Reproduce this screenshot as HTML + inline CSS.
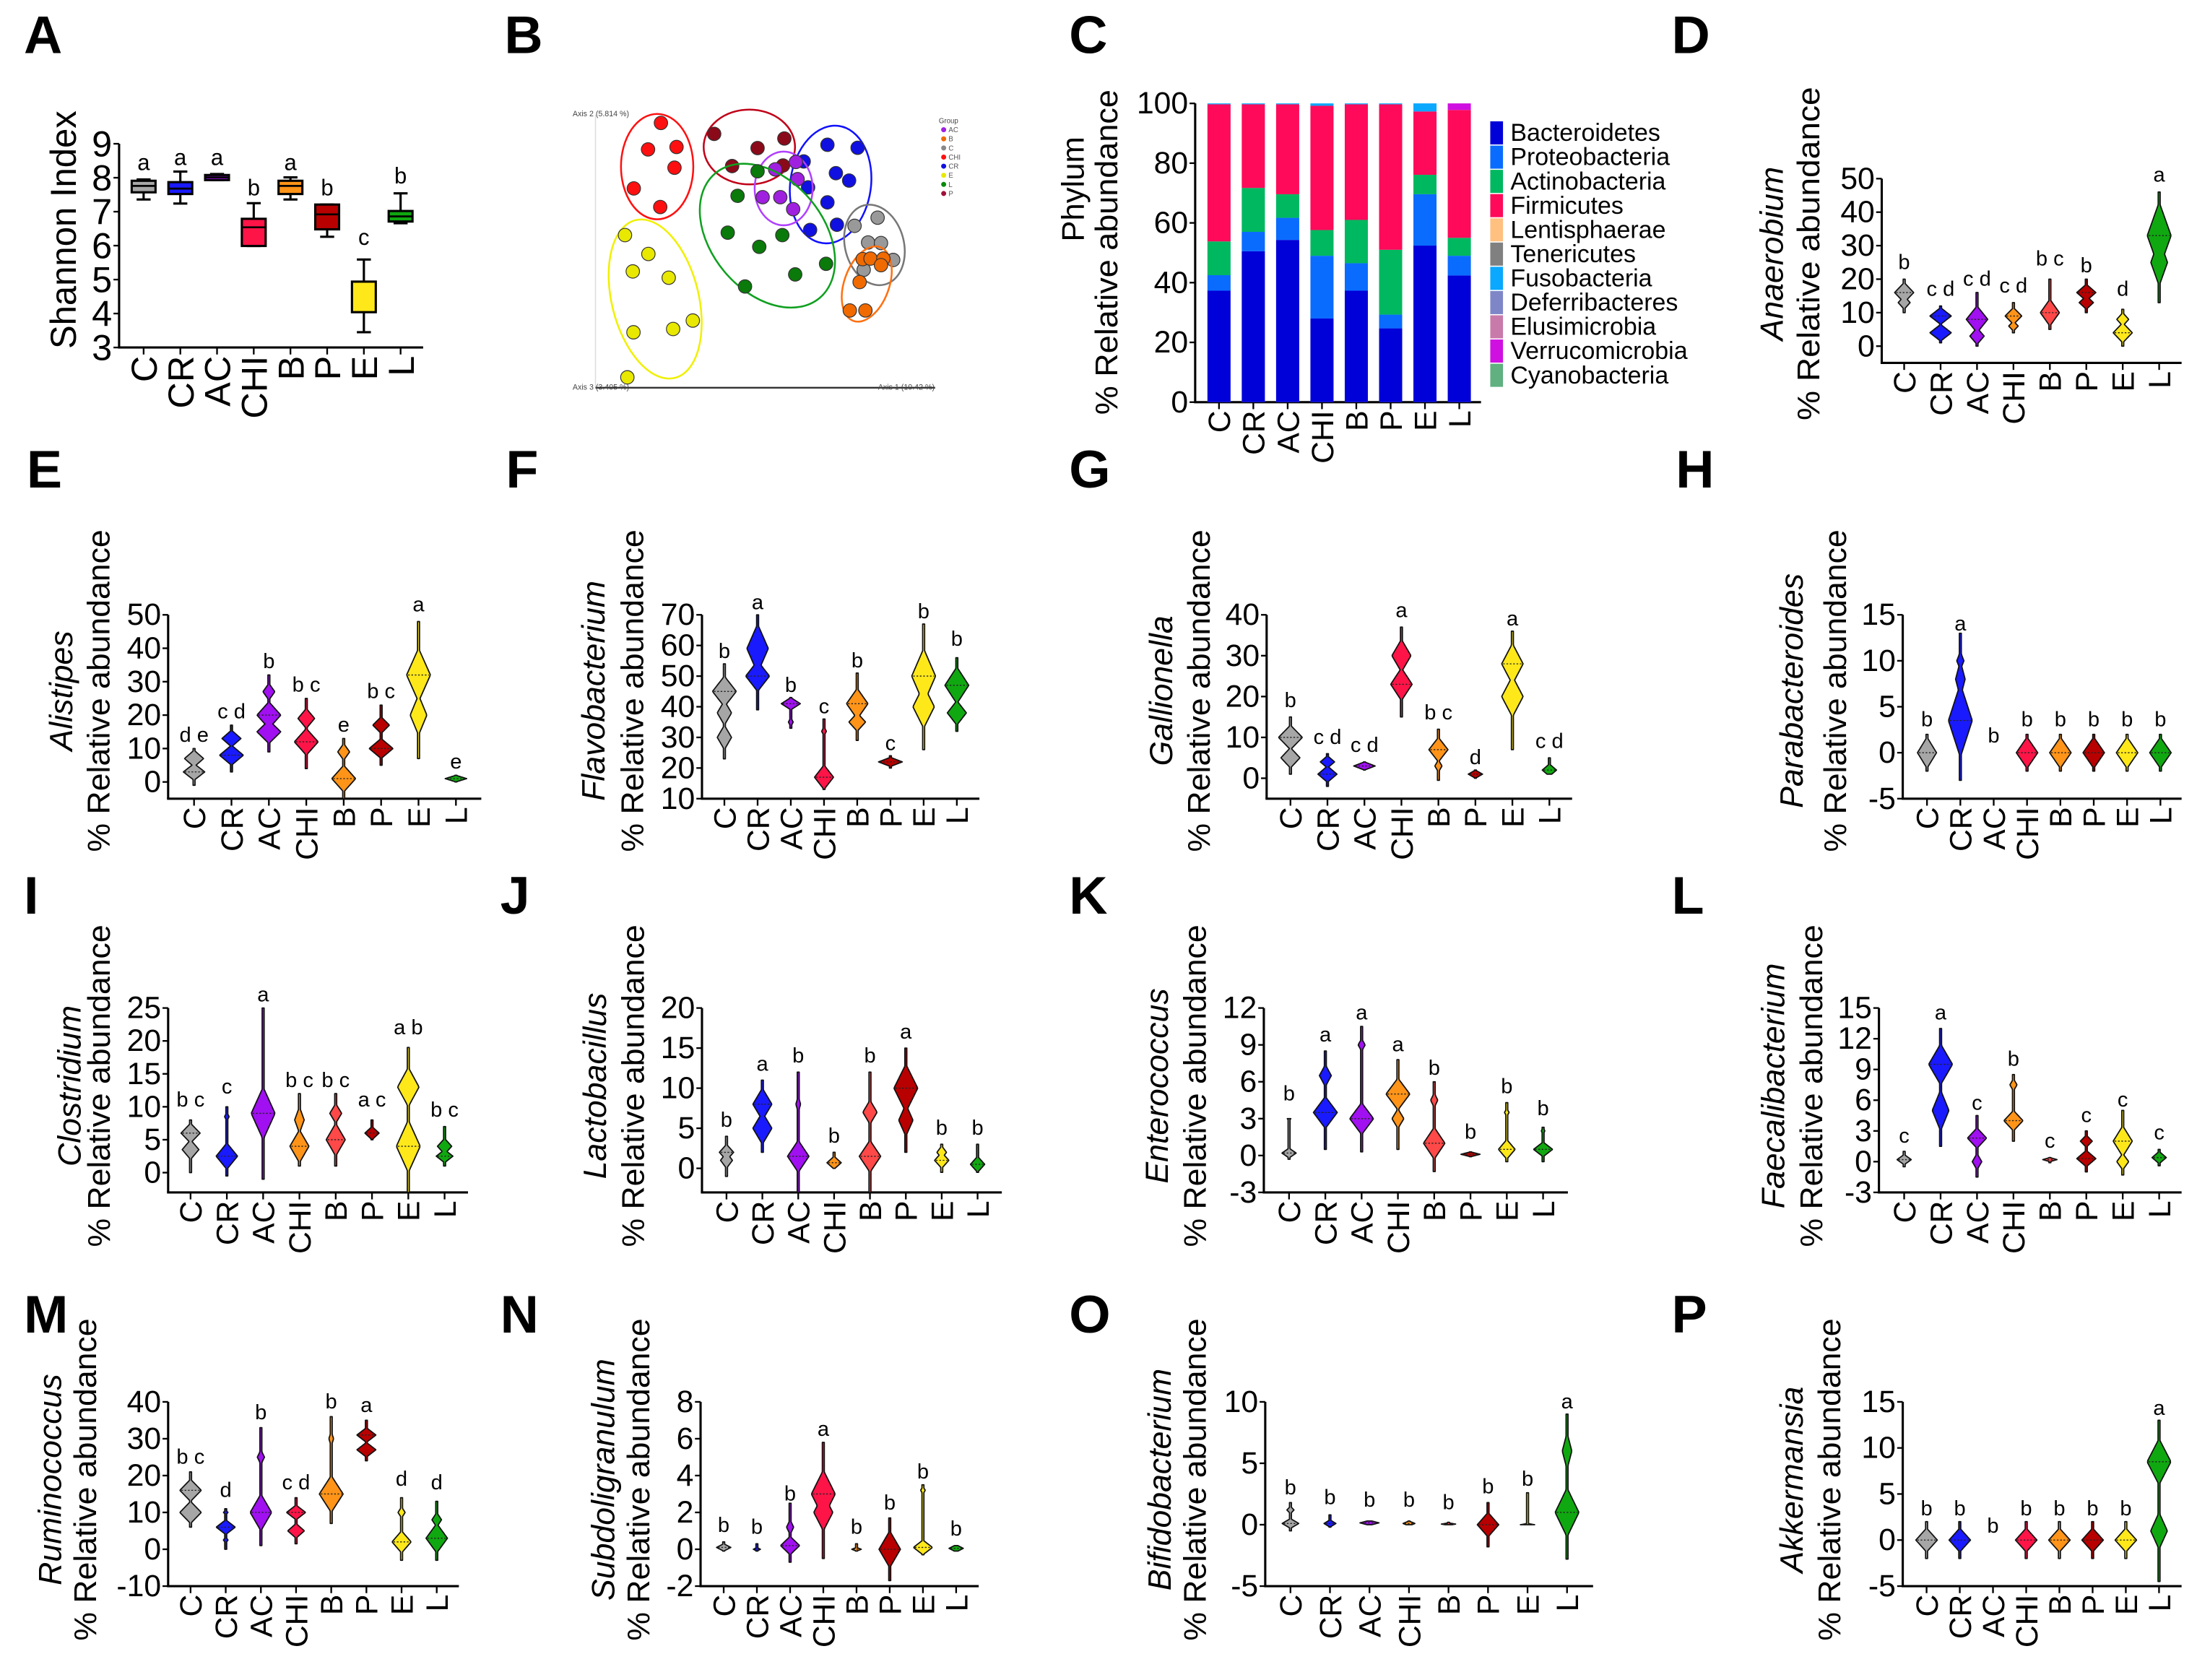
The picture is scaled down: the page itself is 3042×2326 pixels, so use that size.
<!DOCTYPE html>
<html><head><meta charset="utf-8"><title>Microbiota figure</title>
<style>
html,body{margin:0;padding:0;background:#fff;}
svg{display:block;font-family:"Liberation Sans",Arial,sans-serif;}
</style></head>
<body>
<svg id="fig" xmlns="http://www.w3.org/2000/svg" width="3042" height="2326" viewBox="0 0 1568 1199" preserveAspectRatio="none"></svg>
<script>
// ---------- shared categories ----------
const CATS = ["C","CR","AC","CHI","B","P","E","L"];

// ---------- Panel A (Shannon boxplots) ----------
const A_q1 = [7.57,7.52,7.93,5.99,7.52,6.48,4.04,6.71];
const A_med = [7.76,7.68,8.01,6.54,7.76,6.92,4.94,6.86];
const A_q3 = [7.91,7.87,8.08,6.79,7.91,7.21,4.94,7.02];
const A_min = [7.36,7.24,7.93,5.99,7.36,6.26,3.45,6.66];
const A_max = [7.95,8.18,8.11,7.25,8.01,7.21,5.59,7.54];
const A_sig = ["a","a","a","b","a","b","c","b"];
const A_sigY = [8.45,8.6,8.6,7.7,8.45,7.7,6.25,8.05];
const A_ticks = [3,4,5,6,7,8,9];

// ---------- Panel B (PCoA) ----------
const B_groups = ["AC","B","C","CHI","CR","E","L","P"];
const B_x_CHI = [19.3,15.5,23.9,23.3,11.3,19.1];
const B_y_CHI = [97,87.3,88.2,80.6,73,66.2];
const B_x_P = [35,55.7,47.8,40.3,55.3];
const B_y_P = [93,91.3,87.8,81.2,81.4];
const B_x_CR = [68.4,77.3,70.9,74.8,61.4,62.7,68.4,71.2,63.3];
const B_y_CR = [89,87.9,78.6,75.9,82.9,73.4,67.9,59.7,57.8];
const B_x_AC = [53,59.6,49.3,54.5,58.3,59.1];
const B_y_AC = [80,76.4,69.8,69.8,65.4,82.7];
const B_x_L = [47.8,41.9,39,48.3,55.1,68,58.9,44.1];
const B_y_L = [79.3,70.3,56.8,51.6,55.9,45.4,41.5,37.1];
const B_x_C = [83.2,76.4,80.4,84.2,87.8,79.1];
const B_y_C = [62.3,59.3,53.2,53,46.8,43.2];
const B_x_B = [78.8,81.1,84.9,84.2,77.9,75,79.6];
const B_y_B = [47.1,47.3,47.3,44.9,38.7,28.3,28.3];
const B_x_E = [8.7,15.6,11,21.6,11.2,22.9,28.7,9.4];
const B_y_E = [55.9,49,42.6,40.3,20.3,21.5,24.6,3.8];

// ---------- Panel C (phylum stacked bars) ----------
const C_phyla = ["Bacteroidetes","Proteobacteria","Actinobacteria","Firmicutes","Lentisphaerae","Tenericutes","Fusobacteria","Deferribacteres","Elusimicrobia","Verrucomicrobia","Cyanobacteria"];
const C_bacteroidetes = [37.3,50.5,54.3,28,37.3,24.7,52.4,42.4];
const C_proteobacteria = [5.2,6.5,7.4,21,9.2,4.6,17.2,6.6];
const C_actinobacteria = [11.3,14.7,7.9,8.6,14.5,21.7,6.5,6];
const C_firmicutes = [45.9,28,30.1,41.6,38.7,48.7,21.2,42.8];
const C_fusobacteria = [0.3,0.3,0.3,0.8,0.3,0.3,2.7,0];
const C_verrucomicrobia = [0,0,0,0,0,0,0,2.2];
const C_ticks = [0,20,40,60,80,100];

// ---------- Violin panels D..P ----------
const D_lo=[10,1,0,4,5,10,0,13], D_hi=[20,12,16,13,20,20,11,46];
const D_peaks=[[[16,3,0.8],[13,2,0.5]],[[9,2.5,0.9],[4,2.5,0.9]],[[8,4,0.9],[3,2.5,0.6]],[[9,2.5,0.7],[6,1.5,0.4]],[[10,4,0.8]],[[16,2.5,0.8],[13,2,0.6]],[[4,3,0.8],[8,2,0.5]],[[33,10,1],[25,7,0.7]]];
const D_sig=["b","c d","c d","c d","b c","b","d","a"], D_sigY=[25,17,20,18,26,24,17,51];
const D_ticks=[0,10,20,30,40,50];

const E_lo=[-1,3,9,4,-5,5,7,0], E_hi=[10,17,32,25,13,23,48,2];
const E_peaks=[[[7,2.5,0.8],[3,2.5,0.9]],[[13,2.5,0.8],[8,3,1]],[[27,2.5,0.5],[20,4,1],[15,3.5,1]],[[19,3,0.7],[12,4,1]],[[9,2.5,0.5],[1,4,1]],[[17,2.5,0.7],[10,3,1]],[[32,8,1],[20,6,0.7]],[[1,1,0.9]]];
const E_sig=["d e","c d","b","b c","e","b c","a","e"], E_sigY=[14,21,36,29,17,27,53,6];
const E_ticks=[0,10,20,30,40,50];

const F_lo=[23,39,33,13,29,20,26,32], F_hi=[54,70,43,36,51,24,67,56];
const F_peaks=[[[45,5,1],[38,4,0.6],[30,4,0.6]],[[59,8,0.9],[50,5,1]],[[41,2,0.8],[35,1.5,0.2]],[[17,4,0.8],[32,1.5,0.2]],[[41,5,0.9],[35,3,0.7]],[[22,1.5,1]],[[50,9,1],[40,7,0.9]],[[47,6,1],[38,4,0.8]]];
const F_sig=["b","a","b","c","b","c","b","b"], F_sigY=[58,74,47,40,55,28,71,62];
const F_ticks=[10,20,30,40,50,60,70];

const G_lo=[1,-2,2,15,-0.5,0,7,1], G_hi=[15,6,4,37,12,2,36,5];
const G_peaks=[[[10,3,1],[5,2.5,0.8]],[[4,1.5,0.6],[1,2,0.8]],[[3,1,0.9]],[[30,4,0.8],[23,4,0.9]],[[7,3,0.8],[3,1.5,0.3]],[[1,1,0.6]],[[28,5,0.9],[20,5,0.9]],[[2,1.5,0.6]]];
const G_sig=["b","c d","c d","a","b c","d","a","c d"], G_sigY=[19,10,8,41,16,5,39,9];
const G_ticks=[0,10,20,30,40];

const H_lo=[-2,-3,0,-2,-2,-2,-2,-2], H_hi=[2,13,0,2,2,2,2,2];
const H_peaks=[[[0,1.7,0.8]],[[3.5,4,1],[8,2,0.4],[10,1,0.3]],[],[[0,1.7,0.9]],[[0,1.7,0.9]],[[0,1.7,0.9]],[[0,1.7,0.9]],[[0,1.7,0.9]]];
const H_sig=["b","a","b","b","b","b","b","b"], H_sigY=[3.6,14,1.8,3.6,3.6,3.6,3.6,3.6];
const H_ticks=[-5,0,5,10,15];

const I_lo=[0,-0.5,-1,1,1,5,-3,1], I_hi=[8,10,25,12,12,8,19,7];
const I_peaks=[[[6,1.5,0.8],[3.5,1.5,0.7]],[[2.5,2,0.9],[8.5,0.6,0.2]],[[9,4,1]],[[4,2.5,0.8],[8,2,0.4]],[[5,2.5,0.8],[9,1.5,0.5]],[[6,1,0.6]],[[13,3,0.9],[4,4,1]],[[4,1.2,0.6],[2.5,1,0.7]]];
const I_sig=["b c","c","a","b c","b c","a c","a b","b c"], I_sigY=[11,13,27,14,14,11,22,9.5];
const I_ticks=[0,5,10,15,20,25];

const J_lo=[-1,2,-3,0,-3,2,-0.5,-0.5], J_hi=[4,11,12,2,12,15,3,3];
const J_peaks=[[[2,1,0.6],[1,1,0.5]],[[8,2,0.8],[5,2,0.8]],[[1.5,2,0.9],[8,1,0.2]],[[0.7,0.8,0.6]],[[1.5,2,0.9],[7,1.5,0.6]],[[10,3,1],[6,2,0.6]],[[1,1,0.6],[2,0.8,0.4]],[[0.5,1,0.6]]];
const J_sig=["b","a","b","b","b","a","b","b"], J_sigY=[6,13,14,4,14,17,5,5];
const J_ticks=[0,5,10,15,20];

const K_lo=[-0.3,0.5,0.3,0.5,-1.3,-0.1,-0.5,-0.5], K_hi=[3,8.5,10.5,7.8,6,0.3,4.3,2.3];
const K_peaks=[[[0.2,0.4,0.6],[3,0.2,0.15]],[[3.5,1.3,1],[6.5,0.9,0.5]],[[3,1.3,1],[9,0.5,0.3]],[[5,1.3,1],[3,0.8,0.5]],[[1,1.3,0.9],[4.5,0.6,0.3]],[[0.1,0.2,0.8]],[[0.5,0.8,0.7],[3.5,0.3,0.2]],[[0.5,0.6,0.8],[2,0.3,0.15]]];
const K_sig=["b","a","a","a","b","b","b","b"], K_sigY=[5,9.8,11.6,9,7.1,1.9,5.6,3.8];
const K_ticks=[-3,0,3,6,9,12];

const L_lo=[-0.5,1.5,-1.5,2,-0.1,-1,-1.3,-0.4], L_hi=[1,13,4.5,8.5,0.4,3,5,1.2];
const L_peaks=[[[0.2,0.5,0.6]],[[9.5,2,1],[5,2,0.7]],[[2.3,1,0.8],[0,0.8,0.4]],[[4,1,0.8],[7.5,0.6,0.3]],[[0.2,0.2,0.6]],[[2,0.6,0.5],[0.3,0.8,0.8]],[[2,1.5,0.8],[0,0.8,0.5]],[[0.4,0.6,0.6]]];
const L_sig=["c","a","c","b","c","c","c","c"], L_sigY=[2.5,14.5,5.7,10,2,4.5,6,2.8];
const L_ticks=[-3,0,3,6,9,12,15];

const M_lo=[6,0,1,1.5,7,24,-3,-3], M_hi=[21,11,33,14,36,35,14,13];
const M_peaks=[[[16,3,0.9],[10,3,0.9]],[[6,2,0.8],[2.5,0.8,0.2],[10,0.6,0.2]],[[10,5,0.9],[25,2,0.3]],[[10,2,0.8],[5,2,0.7]],[[15,5,1],[30,2,0.2]],[[31,2,0.8],[27,2,0.8]],[[2,3,0.8],[10,1.5,0.3]],[[3,4,0.9],[8,2,0.4]]];
const M_sig=["b c","d","b","c d","b","a","d","d"], M_sigY=[25,16,37,18,40,39,19,18];
const M_ticks=[-10,0,10,20,30,40];

const N_lo=[-0.1,-0.1,-0.7,-0.5,-0.1,-1.7,-0.3,-0.1], N_hi=[0.4,0.3,2.5,5.8,0.3,1.7,3.5,0.2];
const N_peaks=[[[0.1,0.2,0.6]],[[0,0.1,0.3]],[[0.2,0.5,0.8],[1.2,0.4,0.3]],[[3,1.3,1],[2,1,0.8]],[[0,0.1,0.4]],[[0,1,0.9]],[[0.1,0.4,0.8],[3.2,0.2,0.2]],[[0.05,0.2,0.6]]];
const N_sig=["b","b","b","a","b","b","b","b"], N_sigY=[1.3,1.2,3,6.5,1.2,2.5,4.2,1.1];
const N_ticks=[-2,0,2,4,6,8];

const O_lo=[-0.5,-0.2,0,0,0,-1.8,0,-2.8], O_hi=[1.8,0.8,0.3,0.3,0.2,1.8,2.6,9];
const O_peaks=[[[0.1,0.4,0.7],[1.2,0.3,0.3]],[[0.1,0.3,0.5]],[[0.15,0.2,0.8]],[[0.1,0.2,0.5]],[[0.05,0.1,0.6]],[[0,1,0.9]],[[0,0.1,0.6]],[[1,2,1],[6,1.5,0.4]]];
const O_sig=["b","b","b","b","b","b","b","a"], O_sigY=[3,2.2,2,2,1.8,3.1,3.7,10];
const O_ticks=[-5,0,5,10];

const P_lo=[-2,-2,0,-2,-2,-2,-2,-4.5], P_hi=[2,2,0,2,2,2,2,13];
const P_peaks=[[[0,1.3,0.9]],[[0,1.3,0.9]],[],[[0,1.3,0.9]],[[0,1.3,0.9]],[[0,1.3,0.9]],[[0,1.3,0.9]],[[8.5,2.5,1],[1,2,0.7]]];
const P_sig=["b","b","b","b","b","b","b","a"], P_sigY=[3.4,3.4,1.5,3.4,3.4,3.4,3.4,14.3];
const P_ticks=[-5,0,5,10,15];

// ---------- drawing ----------
const NS="http://www.w3.org/2000/svg";
const svg=document.getElementById('fig');
function mk(tag,attrs,parent){const e=document.createElementNS(NS,tag);for(const k in attrs)e.setAttribute(k,attrs[k]);(parent||svg).appendChild(e);return e;}
function txt(s,attrs,parent){const e=mk('text',attrs,parent);e.textContent=s;return e;}

const COL=['#a6a6a6','#1a1aff','#a010f0','#ff1448','#ff9418','#b80000','#ffe81a','#10a810'];
const COL_SWAP=['#a6a6a6','#1a1aff','#a010f0','#ff9418','#ff4848','#b80000','#ffe81a','#10a810'];

// panel letters
const LETTERS=[["A",17,38],["B",360,38],["C",763,38],["D",1193,38],["E",19,348],["F",361,348],["G",763,348],["H",1196,348],["I",17,652],["J",357,652],["K",763,652],["L",1193,652],["M",17,951],["N",357,951],["O",763,951],["P",1193,951]];
LETTERS.forEach(l=>{
  const t=txt(l[0],{x:l[1],y:l[2],'font-size':38,'font-weight':'bold',fill:'#000'});
  
  
});

function axes(g,cfg,ticks,fs){
  const ys=v=>cfg.top+(cfg.dmax-v)/(cfg.dmax-cfg.dmin)*(cfg.bot-cfg.top);
  const yax=mk('line',{x1:cfg.ax,y1:ys(cfg.dmax),x2:cfg.ax,y2:cfg.bot,stroke:'#000','stroke-width':1.6},g);
  
  
  const xax=mk('line',{x1:cfg.ax-0.8,y1:cfg.bot,x2:cfg.right,y2:cfg.bot,stroke:'#000','stroke-width':1.6},g);
  
  
  ticks.forEach(v=>{
    mk('line',{x1:cfg.ax-4,y1:ys(v),x2:cfg.ax,y2:ys(v),stroke:'#000','stroke-width':1.2},g);
    const t=txt(String(v),{x:cfg.ax-5,y:ys(v),'font-size':fs,'text-anchor':'end','dominant-baseline':'central'},g);
    
    
  });
  CATS.forEach((c,i)=>{
    const cx=cfg.x0+i*cfg.dx;
    mk('line',{x1:cx,y1:cfg.bot,x2:cx,y2:cfg.bot+5,stroke:'#000','stroke-width':1.2},g);
    const t=txt(c,{x:0,y:0,'font-size':fs,'text-anchor':'end',transform:`translate(${cx+fs*0.36},${cfg.bot+6}) rotate(-90)`},g);
    
    
  });
  return ys;
}
function ytitle(g,cfg,name){
  if(name){
    const t=txt(name,{x:0,y:0,'font-size':23,'font-style':'italic','text-anchor':'middle','dominant-baseline':'central',transform:`translate(${cfg.tx1},${cfg.tcy}) rotate(-90)`},g);
    
    
  }
  const t2=txt(cfg.t2||'% Relative abundance',{x:0,y:0,'font-size':22.5,'text-anchor':'middle','dominant-baseline':'central',textLength:cfg.tl||230,lengthAdjust:'spacingAndGlyphs',transform:`translate(${cfg.tx2},${cfg.tcy}) rotate(-90)`},g);
  
  
}

// ---- Panel A ----
(function(){
  const g=mk('g',{});
  
  
  const cfg={ax:85,x0:102.5,dx:26.2,right:302,top:102.6,bot:248,dmin:3,dmax:9};
  const ys=axes(g,cfg,A_ticks,26);
  const t=txt('Shannon Index',{x:0,y:0,'font-size':26,'text-anchor':'middle','dominant-baseline':'central',textLength:170,lengthAdjust:'spacingAndGlyphs',transform:'translate(45,164) rotate(-90)'},g);
  
  
  CATS.forEach((c,i)=>{
    const cx=cfg.x0+i*cfg.dx, hw=8.5;
    const bx=mk('g',{},g);
    
    
    mk('line',{x1:cx,y1:ys(A_max[i]),x2:cx,y2:ys(A_min[i]),stroke:'#000','stroke-width':1.6},bx);
    mk('line',{x1:cx-5,y1:ys(A_max[i]),x2:cx+5,y2:ys(A_max[i]),stroke:'#000','stroke-width':1.6},bx);
    mk('line',{x1:cx-5,y1:ys(A_min[i]),x2:cx+5,y2:ys(A_min[i]),stroke:'#000','stroke-width':1.6},bx);
    mk('rect',{x:cx-hw,y:ys(A_q3[i]),width:2*hw,height:Math.max(2,ys(A_q1[i])-ys(A_q3[i])),fill:COL[i],stroke:'#000','stroke-width':1.6},bx);
    mk('line',{x1:cx-hw,y1:ys(A_med[i]),x2:cx+hw,y2:ys(A_med[i]),stroke:'#000','stroke-width':1.4},bx);
    const s=txt(A_sig[i],{x:cx,y:ys(A_sigY[i]),'font-size':16,'text-anchor':'middle','dominant-baseline':'central'},g);
    
    
  });
})();

// ---- Panel B ----
(function(){
  const g=mk('g',{});
  
  
  const X=v=>425+v*2.42, Y=v=>276.7-v*1.948;
  mk('line',{x1:425,y1:81.9,x2:425,y2:276.7,stroke:'#ddd','stroke-width':0.8},g);
  mk('line',{x1:425,y1:276.7,x2:667.4,y2:276.7,stroke:'#333','stroke-width':1.2},g);
  [["Axis 2 (5.814 %)",449,83],["Axis 3 (3.405 %)",449,278],["Axis 1 (10.42 %)",667,278]].forEach(a=>{
    const t=txt(a[0],{x:a[1],y:a[2],'font-size':5.5,'text-anchor':'end',fill:'#444'},g);
    
    
  });
  const groups={CHI:[B_x_CHI,B_y_CHI,'#ff1010','#ff1010',25.8,37.6,0],P:[B_x_P,B_y_P,'#8b0a1a','#c00018',32.6,26.7,0],CR:[B_x_CR,B_y_CR,'#1010e0','#1010ff',28.8,42.2,8],AC:[B_x_AC,B_y_AC,'#a020e0','#b040ff',20.7,26.3,0],L:[B_x_L,B_y_L,'#0a7a0a','#10a020',40,58,-40],C:[B_x_C,B_y_C,'#999','#777',21,29.2,-15],B:[B_x_B,B_y_B,'#f06a00','#ff7010',16,28,20],E:[B_x_E,B_y_E,'#e8e800','#f0f000',31,58,-14]};
  const ecx={CHI:469,P:534.8,CR:592.8,AC:559.3,L:547.7,C:624.1,B:618.6,E:467.6};
  const ecy={CHI:118.9,P:104.9,CR:131.7,AC:134.5,L:168.2,C:174.8,B:202.7,E:213.4};
  Object.keys(groups).forEach(k=>{
    const [xs,ysd,fc,ec,rx,ry,rot]=groups[k];
    const gg=mk('g',{},g);
    
    
    mk('ellipse',{cx:ecx[k],cy:ecy[k],rx:rx,ry:ry,fill:'none',stroke:ec,'stroke-width':1.3,transform:`rotate(${rot} ${ecx[k]} ${ecy[k]})`},gg);
    xs.forEach((x,i)=>{
      const c=mk('circle',{cx:X(x),cy:Y(ysd[i]),r:4.8,fill:fc,stroke:'#333','stroke-width':0.6},gg);
      
      
    });
  });
  const lc={AC:'#a020e0',B:'#f06a00',C:'#888',CHI:'#ff1010',CR:'#1010e0',E:'#e8e800',L:'#0a8a0a',P:'#a0103a'};
  txt('Group',{x:670,y:88,'font-size':5,fill:'#444'},g);
  B_groups.forEach((k,i)=>{
    const y=92.6+i*6.5;
    const it=mk('g',{},g);
    
    
    mk('circle',{cx:673.5,cy:y,r:1.8,fill:lc[k]},it);
    txt(k,{x:677,y:y+1.8,'font-size':5,fill:'#555'},it);
  });
})();

// ---- Panel C ----
(function(){
  const g=mk('g',{});
  
  
  const cfg={ax:853,x0:870,dx:24.5,right:1057,top:73.8,bot:287,dmin:0,dmax:100};
  const ys=axes(g,cfg,C_ticks,22);
  ytitle(g,{tx1:0,tx2:790,tcy:180,tl:232},null);
  const ph=txt('Phylum',{x:0,y:0,'font-size':22.5,'text-anchor':'middle','dominant-baseline':'central',transform:'translate(766,135) rotate(-90)'},g);
  
  
  const series=[[C_bacteroidetes,'#0000d8','bacteroidetes'],[C_proteobacteria,'#0a6cff','proteobacteria'],[C_actinobacteria,'#00b860','actinobacteria'],[C_firmicutes,'#ff0a5a','firmicutes'],[C_fusobacteria,'#0aa8ff','fusobacteria'],[C_verrucomicrobia,'#d010e0','verrucomicrobia']];
  CATS.forEach((c,i)=>{
    const cx=cfg.x0+i*cfg.dx; let acc=0;
    mk('rect',{x:cx-8.25,y:ys(100),width:16.5,height:ys(0)-ys(100),fill:'#dde8ff'},g);
    series.forEach(s=>{
      const v=s[0][i]; if(!v)return;
      const r=mk('rect',{x:cx-8.25,y:ys(acc+v),width:16.5,height:ys(acc)-ys(acc+v),fill:s[1]},g);
      
      
      acc+=v;
    });
  });
  const lcol=['#0000d8','#0a6cff','#00b860','#ff0a5a','#ffc080','#808080','#0aa8ff','#7f86c8','#c87aaa','#d010e0','#60b080'];
  C_phyla.forEach((p,i)=>{
    const y=86.6+i*17.3;
    const it=mk('g',{},g);
    
    
    mk('rect',{x:1063.6,y:y,width:9.1,height:16.5,fill:lcol[i]},it);
    txt(p,{x:1078,y:y+14,'font-size':17.5,fill:'#000'},it);
  });
})();

// ---- violins ----
function violinPanel(id,name,cfg,lo,hi,peaks,sig,sigY,ticks,cols){
  const g=mk('g',{});
  
  
  const ys=axes(g,cfg,ticks,22);
  ytitle(g,cfg,name);
  CATS.forEach((c,i)=>{
    const cx=cfg.x0+i*cfg.dx;
    const pk=peaks[i];
    if(pk.length){
      const N=80, pts=[];
      const wAt=v=>{let m=0;pk.forEach(p=>{const w=p[2]*(1-Math.abs(v-p[0])/p[1]);if(w>m)m=w;});return Math.max(0.7,8.5*m);};
      for(let k=0;k<=N;k++){const v=hi[i]-(hi[i]-lo[i])*k/N;pts.push([v,wAt(v)]);}
      let d='M'+pts.map(p=>(cx+p[1]).toFixed(2)+','+ys(p[0]).toFixed(2)).join(' L');
      d+=' L'+pts.slice().reverse().map(p=>(cx-p[1]).toFixed(2)+','+ys(p[0]).toFixed(2)).join(' L')+' Z';
      const path=mk('path',{d:d,fill:cols[i],stroke:'#111','stroke-width':0.9,'stroke-linejoin':'round'},g);
      
      
      let best=pk[0];pk.forEach(p=>{if(p[2]>best[2])best=p;});
      const w=wAt(best[0]);
      mk('line',{x1:cx-w+1,y1:ys(best[0]),x2:cx+w-1,y2:ys(best[0]),stroke:'#222','stroke-width':0.7,'stroke-dasharray':'1.2,1.2'},g);
    }
    const s=txt(sig[i],{x:cx,y:ys(sigY[i]),'font-size':15,'text-anchor':'middle','dominant-baseline':'central'},g);
    
    
  });
}
const R1={top:127.5,bot:259}, R2={top:438.8,bot:570}, R3={top:719.4,bot:851}, R4={top:1000.5,bot:1132};
violinPanel('d','Anaerobium',{ax:1343,x0:1359,dx:26,right:1557,top:R1.top,bot:R1.bot,dmin:-5,dmax:50,tx1:1265,tx2:1291,tcy:181,tl:238},D_lo,D_hi,D_peaks,D_sig,D_sigY,D_ticks,COL_SWAP);
violinPanel('e','Alistipes',{ax:120,x0:138.5,dx:26.7,right:343.5,top:R2.top,bot:R2.bot,dmin:-5,dmax:50,tx1:44,tx2:70.5,tcy:493},E_lo,E_hi,E_peaks,E_sig,E_sigY,E_ticks,COL);
violinPanel('f','Flavobacterium',{ax:501,x0:517,dx:23.7,right:699,top:R2.top,bot:R2.bot,dmin:10,dmax:70,tx1:424,tx2:451.5,tcy:493},F_lo,F_hi,F_peaks,F_sig,F_sigY,F_ticks,COL);
violinPanel('g','Gallionella',{ax:904,x0:921,dx:26.4,right:1122,top:R2.top,bot:R2.bot,dmin:-5,dmax:40,tx1:829,tx2:856,tcy:493},G_lo,G_hi,G_peaks,G_sig,G_sigY,G_ticks,COL);
violinPanel('h','Parabacteroides',{ax:1358,x0:1375.3,dx:23.8,right:1557,top:R2.top,bot:R2.bot,dmin:-5,dmax:15,tx1:1279,tx2:1310,tcy:493},H_lo,H_hi,H_peaks,H_sig,H_sigY,H_ticks,COL);
violinPanel('i','Clostridium',{ax:120,x0:136,dx:25.9,right:334,top:R3.top,bot:R3.bot,dmin:-3,dmax:25,tx1:50,tx2:71,tcy:775},I_lo,I_hi,I_peaks,I_sig,I_sigY,I_ticks,COL_SWAP);
violinPanel('j','Lactobacillus',{ax:501,x0:518.5,dx:25.6,right:715,top:R3.top,bot:R3.bot,dmin:-3,dmax:20,tx1:425,tx2:452,tcy:775},J_lo,J_hi,J_peaks,J_sig,J_sigY,J_ticks,COL_SWAP);
violinPanel('k','Enterococcus',{ax:902,x0:920,dx:25.9,right:1119,top:R3.top,bot:R3.bot,dmin:-3,dmax:12,tx1:826,tx2:853,tcy:775},K_lo,K_hi,K_peaks,K_sig,K_sigY,K_ticks,COL_SWAP);
violinPanel('l','Faecalibacterium',{ax:1341,x0:1359,dx:26,right:1557,top:R3.top,bot:R3.bot,dmin:-3,dmax:15,tx1:1266,tx2:1293,tcy:775},L_lo,L_hi,L_peaks,L_sig,L_sigY,L_ticks,COL_SWAP);
violinPanel('m','Ruminococcus',{ax:120,x0:136,dx:25.1,right:327.5,top:R4.top,bot:R4.bot,dmin:-10,dmax:40,tx1:36,tx2:61,tcy:1056},M_lo,M_hi,M_peaks,M_sig,M_sigY,M_ticks,COL);
violinPanel('n','Subdoligranulum',{ax:500,x0:516.5,dx:23.7,right:698.5,top:R4.top,bot:R4.bot,dmin:-2,dmax:8,tx1:431,tx2:456,tcy:1056},N_lo,N_hi,N_peaks,N_sig,N_sigY,N_ticks,COL);
violinPanel('o','Bifidobacterium',{ax:903,x0:921,dx:28.2,right:1137,top:R4.top,bot:R4.bot,dmin:-5,dmax:10,tx1:828,tx2:853,tcy:1056},O_lo,O_hi,O_peaks,O_sig,O_sigY,O_ticks,COL_SWAP);
violinPanel('p','Akkermansia',{ax:1358,x0:1375,dx:23.7,right:1557,top:R4.top,bot:R4.bot,dmin:-5,dmax:15,tx1:1279,tx2:1306,tcy:1056},P_lo,P_hi,P_peaks,P_sig,P_sigY,P_ticks,COL);
</script>
</body></html>
